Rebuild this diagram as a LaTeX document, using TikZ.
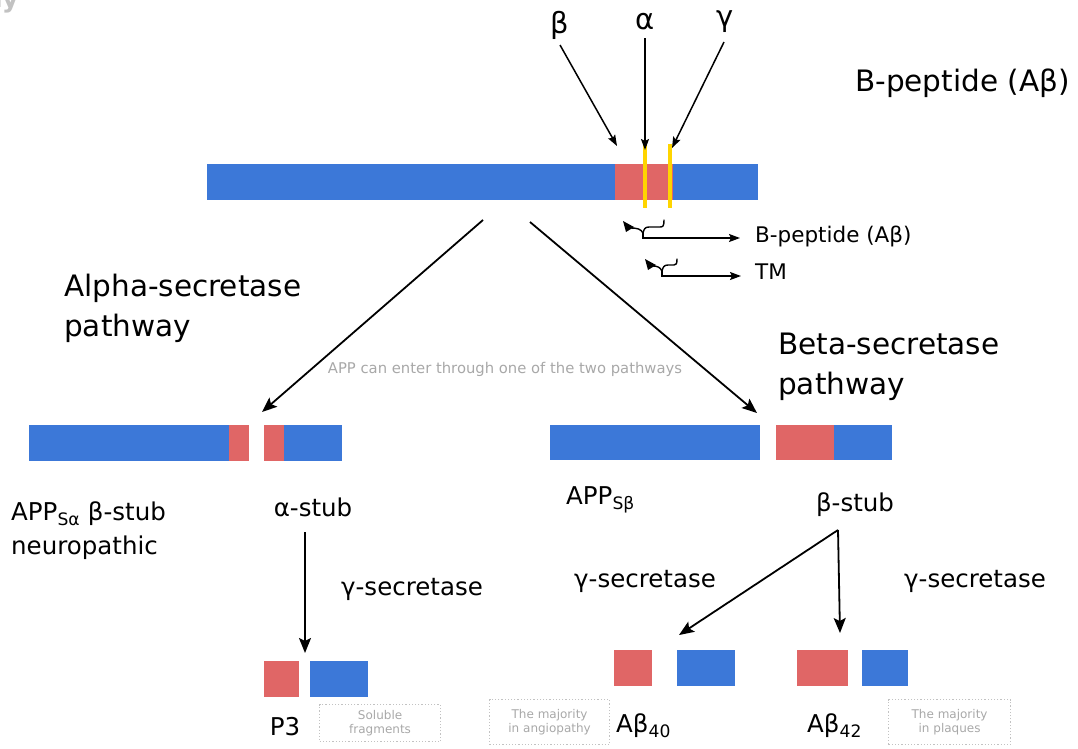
\documentclass[tikz,border=0pt]{standalone}
\usepackage{fontspec}
\setmainfont{DejaVu Sans}
\usetikzlibrary{arrows.meta}
\definecolor{barblue}{HTML}{3C78D8}
\definecolor{barred}{HTML}{E06666}
\definecolor{cutyellow}{HTML}{FFD500}
\definecolor{notegray}{HTML}{A8A8A8}
\begin{document}
\begin{tikzpicture}[x=1pt,y=-1pt,
  bluebar/.style={fill=barblue,draw=none,inner sep=0pt,anchor=north west},
  redbar/.style={fill=barred,draw=none,inner sep=0pt,anchor=north west},
  big/.style={font=\fontsize{29.5}{40}\selectfont,inner sep=0pt},
  mid/.style={font=\fontsize{24.5}{34}\selectfont,inner sep=0pt},
  greek/.style={font=\fontsize{29}{32}\selectfont,inner sep=0pt},
  small/.style={font=\fontsize{14.8}{16}\selectfont,text=notegray,inner sep=0pt},
  tiny/.style={font=\fontsize{12}{14.5}\selectfont,text=notegray,inner sep=0pt,align=center},
  notebox/.style={draw=notegray!70,dotted,line width=1.2pt,anchor=north west,inner sep=0pt},
  arr/.style={-{Stealth[length=15pt,width=12pt,inset=3pt]},line width=1.8pt},
  sarr/.style={-{Stealth[length=11pt,width=8pt,inset=2pt]},line width=1.5pt},
  brc/.style={line width=1.4pt,line cap=round,line join=round},
  cut/.style={cutyellow,line width=3.5pt}]
\useasboundingbox (0,0) rectangle (1078,748);

% cropped text top-left
\node[font=\fontsize{26}{30}\selectfont\bfseries,text=notegray!70,anchor=east,inner sep=0pt] (ay) at (19,3) {ay};

% top bar
\node[bluebar,minimum width=551pt,minimum height=36pt] (app) at (207,164) {};
\node[redbar,minimum width=58pt,minimum height=36pt] (ab) at (615,164) {};
\draw[cut] (645,144) -- (645,208);
\draw[cut] (670,144) -- (670,208);

% secretase labels and arrows
\node[greek] (beta) at (560,25) {β};
\node[greek] (alpha) at (645,22) {α};
\node[greek] (gamma) at (725,22) {γ};
\coordinate (bend) at (617,146);
\coordinate (aend) at (645,150);
\coordinate (gend) at (672,148);
\draw[sarr] (560,45) -- (bend);
\draw[sarr] (645,38) -- (aend);
\draw[sarr] (724,42) -- (gend);

\node[big,anchor=west] (bpep) at (855,83) {B-peptide (Aβ)};

% brace 1
\fill (623,221) -- (634,227) -- (626,232) -- cycle;
\draw[brc] (631,228) .. controls (637,228) and (641,229) .. (643,233);
\draw[brc] (643,233) .. controls (644,229) and (645,227) .. (649,227) -- (660,227) .. controls (663,227) and (664,226) .. (664,220);
\coordinate (bt1) at (643,232);
\node[font=\fontsize{21.5}{24}\selectfont,inner sep=0pt,anchor=west] (bpep2) at (755,236) {B-peptide (Aβ)};
\draw[sarr,line width=1.4pt] (bt1) |- (740,238);

% brace 2
\fill (645,259) -- (656,265) -- (648,270) -- cycle;
\draw[brc] (653,266) .. controls (657,266) and (660,267) .. (662,271);
\draw[brc] (662,271) .. controls (663,267) and (664,265) .. (668,265) -- (674,265) .. controls (676,265) and (677,264) .. (677,259);
\coordinate (bt2) at (662,270);
\node[font=\fontsize{21.5}{24}\selectfont,inner sep=0pt,anchor=west] (tm) at (755,272) {TM};
\draw[sarr,line width=1.4pt] (bt2) |- (741,276);

% pathways
\coordinate (ls) at (483,220);
\coordinate (rs) at (530,222);
\node[big,anchor=west,align=left] (alph) at (64,308) {Alpha-secretase\\pathway};
\node[big,anchor=west,align=left] (bet) at (778,367) {Beta-secretase\\pathway};
\node[small] (enter) at (505,369) {APP can enter through one of the two pathways};

% row 2 left
\node[bluebar,minimum width=200pt,minimum height=36pt] (l1) at (29,425) {};
\node[redbar,minimum width=20pt,minimum height=36pt] (l2) at (229,425) {};
\node[redbar,minimum width=20pt,minimum height=36pt] (l3) at (264,425) {};
\node[bluebar,minimum width=58pt,minimum height=36pt] (l4) at (284,425) {};
\draw[arr] (ls) -- (262,412) coordinate (le);

% row 2 right
\node[bluebar,minimum width=210pt,minimum height=35pt] (r1) at (550,425) {};
\node[redbar,minimum width=58pt,minimum height=35pt] (r2) at (776,425) {};
\node[bluebar,minimum width=58pt,minimum height=35pt] (r3) at (834,425) {};
\draw[arr] (rs) -- (757,413) coordinate (re);

% labels row 2
\node[mid,anchor=west,align=left] (appsa) at (11,531) {APP\textsubscript{Sα} β-stub\\neuropathic};
\node[mid] (astub) at (313,507) {α-stub};
\node[mid,anchor=west] (appsb) at (566,500) {APP\textsubscript{Sβ}};
\node[mid] (bstub) at (855,505) {β-stub};
\node[mid] (g1) at (412,589) {γ-secretase};
\node[mid] (g2) at (645,581) {γ-secretase};
\node[mid] (g3) at (975,581) {γ-secretase};

% bottom bars
\node[redbar,minimum width=35pt,minimum height=36pt] (p3r) at (264,661) {};
\node[bluebar,minimum width=58pt,minimum height=36pt] (p3b) at (310,661) {};
\node[redbar,minimum width=38pt,minimum height=36pt] (a40r) at (614,650) {};
\node[bluebar,minimum width=58pt,minimum height=36pt] (a40b) at (677,650) {};
\node[redbar,minimum width=51pt,minimum height=36pt] (a42r) at (797,650) {};
\node[bluebar,minimum width=46pt,minimum height=36pt] (a42b) at (862,650) {};

\draw[arr] (305,532) -- (305,653);
\coordinate (bfork) at (838,530);
\draw[arr] (bfork) -- (679,635);
\draw[arr] (bfork) -- (840,633);

% bottom labels
\node[mid] (p3) at (285,727) {P3};
\node[mid,anchor=west] (ab40) at (616,726) {Aβ\textsubscript{40}};
\node[mid,anchor=west] (ab42) at (807,726) {Aβ\textsubscript{42}};
\node[notebox,minimum width=121pt,minimum height=37pt] (n1) at (319,704) {};
\node[tiny] at (n1.center) {Soluble\\fragments};
\node[notebox,minimum width=120pt,minimum height=45pt] (n2) at (489,699) {};
\node[tiny] at (n2.center) {The majority\\in angiopathy};
\node[notebox,minimum width=122pt,minimum height=45pt] (n3) at (888,699) {};
\node[tiny] at (n3.center) {The majority\\in plaques};
\end{tikzpicture}
\end{document}
